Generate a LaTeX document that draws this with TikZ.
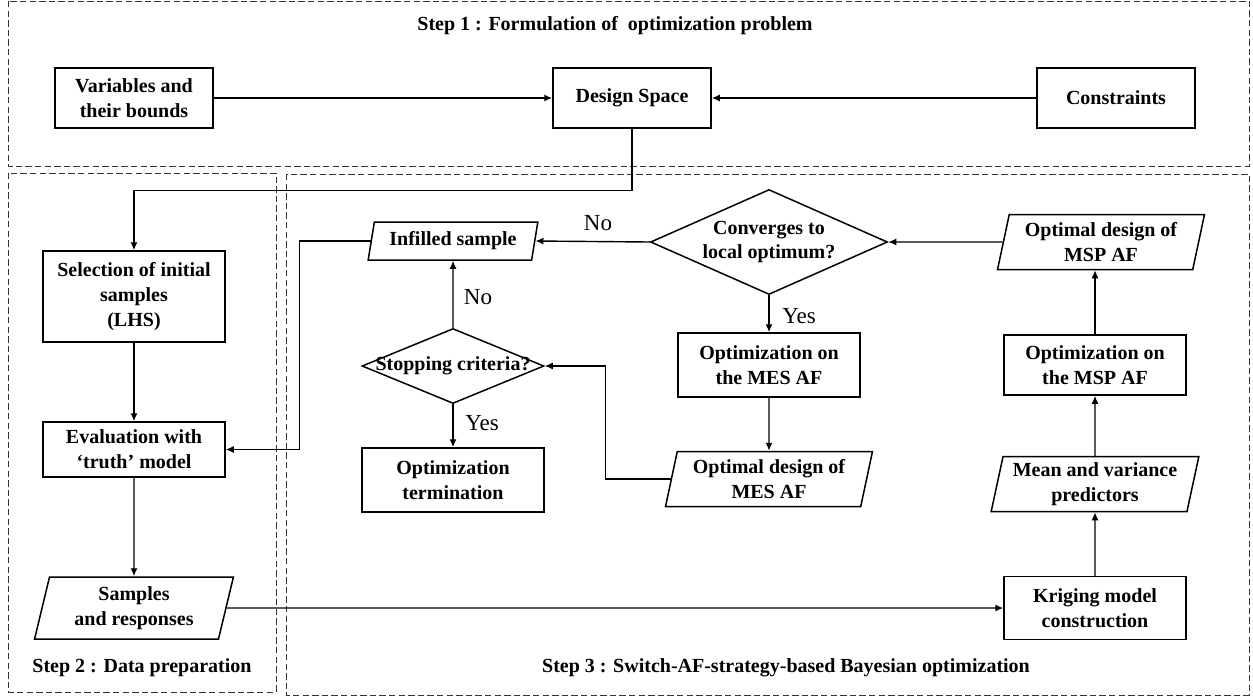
\documentclass[tikz,border=0pt]{standalone}
\usepackage{fontspec}
\setmainfont{Liberation Serif}
\usetikzlibrary{arrows.meta,shapes.geometric}
\newcommand{\zerowd}[1]{\makebox[0pt]{\begin{tabular}{@{}c@{}}#1\end{tabular}}}

\begin{document}
\begin{tikzpicture}[x=0.5pt,y=-0.5pt,
    box/.style={draw,line width=0.75pt,font=\fontsize{10}{12.5}\selectfont\bfseries,align=center,inner sep=1pt,minimum width=91pt,minimum height=31pt},
    io/.style={draw,line width=0.75pt,font=\fontsize{10}{12.5}\selectfont\bfseries,align=center,inner sep=1pt,trapezium,trapezium left angle=77,trapezium right angle=103,trapezium stretches=true,minimum width=104pt,minimum height=27.5pt},
    decision/.style={draw,line width=0.75pt,font=\fontsize{10}{12}\selectfont\bfseries,diamond,inner sep=0pt},
    flow/.style={line width=0.7pt,-{Latex[length=4pt,width=3.5pt]}},
    frame/.style={dash pattern=on 3.2pt off 1.6pt,line width=0.5pt,black!80},
    yesno/.style={font=\fontsize{11.5}{13}\selectfont},
    steplab/.style={font=\fontsize{10}{12}\selectfont\bfseries}]
  \useasboundingbox (0,0) rectangle (1253,698);

  % the three steps
  \draw[frame] (8,1) rectangle (1249,166);
  \draw[frame] (8,173) rectangle (276,692);
  \draw[frame] (286,174) rectangle (1249,695);
  \node[steplab] (t1) at (615,26) {Step 1 : Formulation of\ \ optimization problem};
  \node[steplab] (t2) at (142,668) {Step 2 : Data preparation};
  \node[steplab] (t3) at (786,668) {Step 3 : Switch-AF-strategy-based Bayesian optimization};

  % step 1
  \node[box,minimum width=79pt,minimum height=30pt] (var) at (134,98) {Variables and\\their bounds};
  \node[box,minimum width=79pt,minimum height=30pt] (ds) at (632,98) {Design Space};
  \node[box,minimum width=79pt,minimum height=30pt] (con) at (1116,98) {Constraints};

  % step 2
  \node[box,minimum height=45.5pt] (sel) at (134,296.5) {Selection of initial\\samples\\(LHS)};
  \node[box,minimum height=27.5pt] (eval) at (134,449.5) {Evaluation with\\`truth' model};
  \node[io,minimum width=99.5pt,minimum height=31pt] (samp) at (134,608) {Samples\\and responses};

  % step 3
  \node[io,minimum width=85pt,minimum height=19pt] (inf) at (453,241) {Infilled sample};
  \node[decision,minimum width=118.5pt,minimum height=52.5pt] (conv) at (769,242) {\zerowd{Converges to\\local optimum?}};
  \node[decision,minimum width=91pt,minimum height=37.5pt] (stop) at (453,366) {\zerowd{Stopping criteria?}};
  \node[box,minimum height=32pt] (term) at (453,480) {Optimization\\termination};
  \node[box,minimum height=32pt] (mesopt) at (769,365) {Optimization on\\the MES AF};
  \node[io] (mesout) at (769,479) {Optimal design of\\MES AF};
  \node[io] (mspout) at (1101,242) {Optimal design of\\MSP AF};
  \node[box,minimum height=30pt] (mspopt) at (1095,365) {Optimization on\\the MSP AF};
  \node[io] (mv) at (1095,484) {Mean and variance\\predictors};
  \node[box,minimum height=31.5pt] (krig) at (1095,608) {Kriging model\\construction};

  \node[yesno] (no1) at (598,223) {No};
  \node[yesno] (no2) at (478,297) {No};
  \node[yesno] (yes1) at (799,316) {Yes};
  \node[yesno] (yes2) at (482,423) {Yes};

  % connectors
  \draw[flow] (var.east) -- (ds.west);
  \draw[flow] (con.west) -- (ds.east);
  \draw[flow] (ds.south) -- ++(0,62) -| (sel.north);
  \draw[flow] (sel.south) -- (eval.north);
  \draw[flow] (eval.south) -- (samp.north);
  \draw[flow] (samp.east) -- (krig.west);
  \draw[flow] (krig.north) -- (mv.south);
  \draw[flow] (mv.north) -- (mspopt.south);
  \draw[flow] (mspopt.north) -- (mspopt.north |- mspout.south);
  \draw[flow] (mspout.west) -- (conv.east);
  \draw[flow] (conv.west) -- (inf.east);
  \draw[flow] (conv.south) -- (mesopt.north);
  \draw[flow] (mesopt.south) -- (mesout.north);
  \draw[flow] (mesout.west) -- ++(-65,0) |- (stop.east);
  \draw[flow] (stop.north) -- (inf.south);
  \draw[flow] (stop.south) -- (term.north);
  \draw[flow] (inf.west) -- ++(-71,0) |- (eval.east);
\end{tikzpicture}
\end{document}
